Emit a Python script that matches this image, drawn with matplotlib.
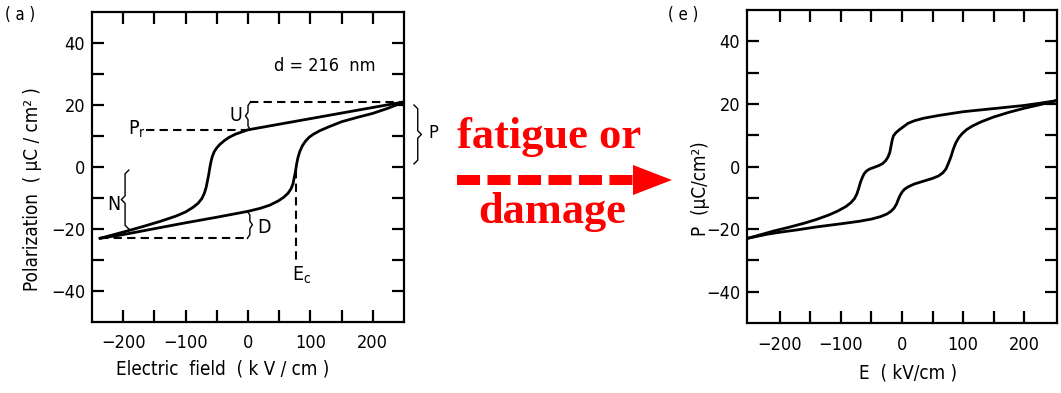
import matplotlib
matplotlib.use("Agg")
import matplotlib.pyplot as plt
from matplotlib.lines import Line2D
from matplotlib.patches import Polygon

plt.rcParams['font.family'] = ['DejaVu Sans']
plt.rcParams['font.stretch'] = 'condensed'
plt.rcParams['mathtext.fontset'] = 'dejavusans'

# (a) pristine loop
a_up_E = [250, 225, 200, 150, 100, 50, 0, -10, -20, -30, -38, -45, -50, -54, -57, -59,
          -61, -63, -65, -67, -70, -74, -80, -88, -100, -115, -140, -170, -200, -237]
a_up_P = [21, 20.1, 19.2, 17.4, 15.6, 13.8, 12, 11.3, 10.6, 9.6, 8.5, 7.3, 6.2, 5, 3.5, 2,
          0, -2.5, -4.5, -6.5, -8.5, -10.2, -11.7, -13, -14.5, -15.8, -17.5, -19.3, -21, -23]
a_lo_E = [-237, -200, -150, -100, -50, 0, 20, 35, 48, 57, 64, 69, 72, 74, 76, 78, 80, 83,
          87, 92, 98, 105, 115, 130, 150, 175, 200, 225, 250]
a_lo_P = [-23, -21.8, -19.9, -18, -16.2, -14.3, -13.3, -12.3, -11, -9.8, -8.5, -7, -5.5,
          -3.5, -1.5, 1, 3, 5, 6.8, 8.3, 9.6, 10.6, 11.7, 13, 14.6, 16, 17.3, 19, 21]

# (e) fatigued / damaged loop
e_up_E = [252, 225, 200, 150, 100, 60, 35, 20, 10, 3, -4, -10, -14, -16, -18, -20, -23,
          -27, -32, -38, -46, -53, -58, -62, -65, -68, -71, -74, -78, -84, -92, -105,
          -120, -140, -160, -185, -210, -230, -252]
e_up_P = [21, 20.2, 19.5, 18.5, 17.5, 16.3, 15.4, 14.6, 13.8, 12.8, 11.8, 10.8, 9.8, 8.5,
          6.5, 4.5, 3, 1.8, 0.9, 0.3, -0.3, -0.8, -1.4, -2.3, -3.5, -5, -7, -8.8, -10.3,
          -11.6, -12.8, -14.2, -15.5, -16.9, -18.1, -19.4, -20.6, -21.7, -22.9]
e_lo_E = [-252, -220, -200, -170, -140, -100, -70, -50, -35, -25, -18, -13, -9, -6, -3, 0,
          4, 10, 20, 35, 50, 60, 67, 72, 76, 80, 84, 88, 93, 99, 106, 115, 130, 150, 175,
          200, 225, 252]
e_lo_P = [-22.9, -21.6, -21, -20.2, -19.3, -18.3, -17.5, -16.8, -16, -15.2, -14.3, -13.3,
          -12, -10.5, -9.2, -8.2, -7.3, -6.5, -5.6, -4.7, -3.8, -3, -2, -0.8, 1, 3, 5.5,
          7.5, 9.2, 10.6, 11.8, 12.9, 14.3, 15.8, 17.3, 18.6, 19.7, 21]

Pr = 12
Pmax = 21
Pmin = -23
Ec = 77

x_ticks = [-200, -150, -100, -50, 0, 50, 100, 150, 200]
x_labels = ['−200', '', '−100', '', '0', '', '100', '', '200']
y_ticks = [-40, -30, -20, -10, 0, 10, 20, 30, 40]
y_labels = ['−40', '', '−20', '', '0', '', '20', '', '40']

fig = plt.figure(figsize=(10.61, 3.93), dpi=100)
W, H = 1061, 393


def px_axes(x0, y0, x1, y1):
    return fig.add_axes([x0 / W, 1 - y1 / H, (x1 - x0) / W, (y1 - y0) / H])


def style(ax, xlim):
    ax.set_xlim(*xlim)
    ax.set_ylim(-50, 50)
    ax.set_xticks(x_ticks)
    ax.set_xticklabels(x_labels)
    ax.set_yticks(y_ticks)
    ax.set_yticklabels(y_labels)
    ax.tick_params(direction='in', length=8.5, width=1.6, top=True, right=True,
                   labelsize=13)
    ax.tick_params(axis='x', pad=9)
    ax.tick_params(axis='y', pad=5)
    for s in ax.spines.values():
        s.set_linewidth(1.6)


def brace(ax, x, y0, y1, w, h, **kw):
    # curly brace along x, tip direction given by sign of w
    ym = (y0 + y1) / 2
    xs = [x - w, x, x, x + w, x, x, x - w]
    ys = [y1, y1 - h, ym + h, ym, ym - h, y0 + h, y0]
    ax.plot(xs, ys, color='black', lw=1.0, clip_on=False, **kw)


dash = dict(color='black', lw=1.5, dashes=(4, 2.5))

# ---- panel (a)
ax1 = px_axes(92, 12, 404, 322)
style(ax1, (-250, 250))
ax1.plot(a_up_E, a_up_P, color='black', lw=2)
ax1.plot(a_lo_E, a_lo_P, color='black', lw=2)
ax1.plot([-163, 0], [Pr, Pr], **dash)
ax1.plot([3, 248], [Pmax, Pmax], **dash)
ax1.plot([-237, 0], [Pmin, Pmin], **dash)
ax1.plot([Ec, Ec], [-1, -31], **dash)
brace(ax1, 0, Pr, Pmax, -4, 1.2)
brace(ax1, 3, Pmin, -14.3, 4, 1.2)
brace(ax1, -197, -20, -1, -6, 1.2)
brace(ax1, 272, 1, 20, 6, 1.2)
ax1.text(-20, 16.5, 'U', fontsize=14, ha='center', va='center')
ax1.text(26, -19.5, 'D', fontsize=14, ha='center', va='center')
ax1.text(-215, -12, 'N', fontsize=14, ha='center', va='center')
ax1.text(297, 11, 'P', fontsize=13, ha='center', va='center', clip_on=False)
ax1.text(-178, 12, r'P$_\mathregular{r}$', fontsize=14, ha='center', va='center')
ax1.text(70, -35, r'E$_\mathregular{c}$', fontsize=14, ha='left', va='center')
ax1.text(123, 32.5, 'd = 216  nm', fontsize=13, ha='center', va='center')
ax1.set_xlabel('Electric  field  ( k V / cm )', fontsize=13.5)
ax1.xaxis.set_label_coords(0.42, -0.12)
ax1.set_ylabel('Polarization  ( µC / cm² )', fontsize=13.5)
ax1.yaxis.set_label_coords(-0.16, 0.43)
fig.text(5 / W, 1 - 15 / H, '( a )', fontsize=12, ha='left', va='center')

# ---- panel (e)
ax2 = px_axes(747, 10, 1057, 323)
style(ax2, (-254, 254))
ax2.plot(e_up_E, e_up_P, color='black', lw=2)
ax2.plot(e_lo_E, e_lo_P, color='black', lw=2)
ax2.set_xlabel('E  ( kV/cm )', fontsize=13.5)
ax2.xaxis.set_label_coords(0.52, -0.13)
ax2.set_ylabel('P  (µC/cm²)', fontsize=13.5)
ax2.yaxis.set_label_coords(-0.12, 0.43)
fig.text(668 / W, 1 - 15 / H, '( e )', fontsize=12, ha='left', va='center')

# ---- middle annotation
red = '#ff0000'
serif = ['Liberation Serif', 'DejaVu Serif']
fig.text(549 / W, 1 - 137 / H, 'fatigue or', color=red, fontsize=32, fontweight='bold',
         family=serif, stretch='normal', ha='center', va='center')
fig.text(552 / W, 1 - 212 / H, 'damage', color=red, fontsize=32, fontweight='bold',
         family=serif, stretch='normal', ha='center', va='center')
fig.add_artist(Line2D([457 / W, 634 / W], [1 - 180 / H, 1 - 180 / H],
                      transform=fig.transFigure, color=red, lw=7.2,
                      dashes=(2.3, 0.75), solid_capstyle='butt',
                      dash_capstyle='butt'))
fig.add_artist(Polygon([[633 / W, 1 - 165 / H], [672 / W, 1 - 180 / H],
                        [633 / W, 1 - 195 / H]], closed=True,
                       transform=fig.transFigure, color=red, lw=0))

fig.savefig('out.png', dpi=100)
